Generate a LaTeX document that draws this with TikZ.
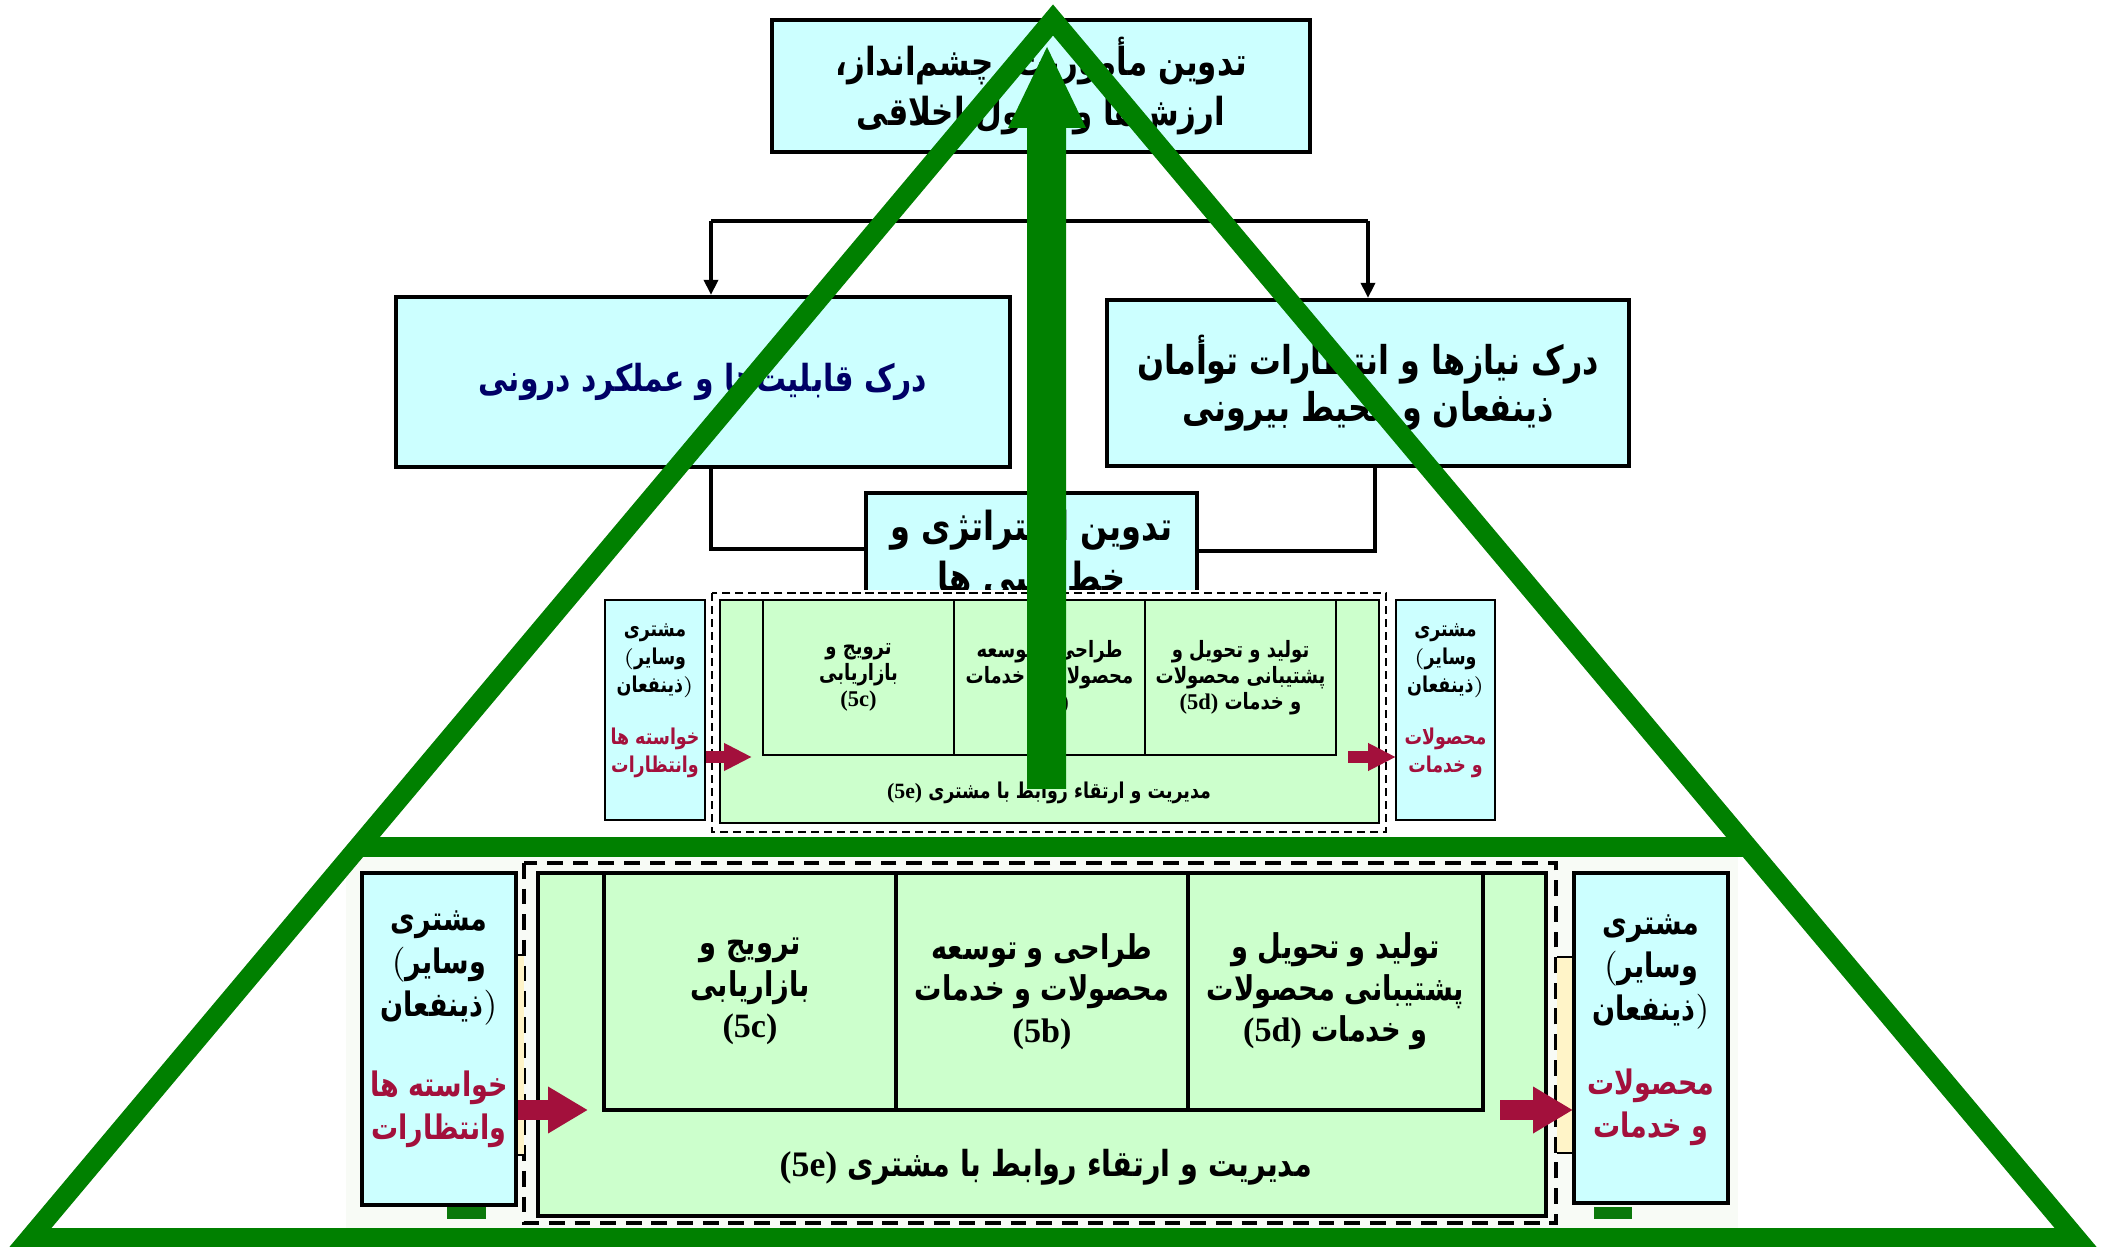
\documentclass[tikz,border=0pt]{standalone}
\usepackage{fontspec}
\setmainfont{DejaVu Sans}
\newfontfamily\fa[Script=Arabic, FakeStretch=0.8]{DejaVu Sans}
\newfontfamily\lat{Liberation Serif}
\TeXXeTstate=1
\usetikzlibrary{calc,arrows.meta}

\newcommand{\rl}[1]{\beginR#1\endR}
\newcommand{\pcode}[1]{\beginL{\lat\bfseries(#1)}\endL}
\newcommand{\lpar}{$\mathbf{(}$}
\newcommand{\rpar}{$\mathbf{)}$}
\newcommand{\fs}[2]{\fontsize{#1}{#2}\selectfont}

\definecolor{boxcyan}{HTML}{CCFFFF}
\definecolor{cellgreen}{HTML}{CCFFCC}
\definecolor{navytext}{HTML}{000066}
\definecolor{wine}{HTML}{A3103C}
\definecolor{pyramid}{HTML}{008000}
\definecolor{tabgreen}{HTML}{0B780B}
\definecolor{stripyellow}{HTML}{FFF4C8}
\definecolor{panel}{HTML}{F8FBF6}

\tikzset{
  upperbox/.style={draw=black, line width=1.2pt, fill=boxcyan, inner sep=0pt,
    align=center, font=\fa\bfseries\fs{11}{14.2}},
  conn/.style={draw=black, line width=1pt},
  tipconn/.style={conn, -{Triangle[width=4pt,length=4.3pt]}},
  % large process panel
  bigframe/.style={draw=black, line width=0.9pt, dash pattern=on 4.5pt off 2.8pt},
  bigouter/.style={draw=black, line width=1.1pt, fill=cellgreen, inner sep=0pt},
  bigcell/.style={draw=black, line width=1.1pt, fill=cellgreen, inner sep=0pt,
    align=center, font=\fa\bfseries\fs{9.7}{11.8}},
  bigcust/.style={draw=black, line width=1.2pt, fill=boxcyan, inner sep=0pt},
  bigtext/.style={inner sep=0pt, align=center, font=\fa\bfseries\fs{9.6}{12.2}},
  bigarrow/.style={draw=wine, line width=2mm, -{Triangle[width=4.4mm,length=4mm]}},
  % small process panel
  smframe/.style={draw=black, line width=0.6pt, dash pattern=on 2.3pt off 1.4pt},
  smouter/.style={draw=black, line width=0.7pt, fill=cellgreen, inner sep=0pt},
  smcell/.style={draw=black, line width=0.7pt, fill=cellgreen, inner sep=0pt,
    align=center, font=\fa\bfseries\fs{6.4}{7.4}},
  smcust/.style={draw=black, line width=0.8pt, fill=boxcyan, inner sep=0pt},
  smtext/.style={inner sep=0pt, align=center, font=\fa\bfseries\fs{6.2}{8}},
  smarrow/.style={draw=wine, line width=1.2mm, -{Triangle[width=2.6mm,length=2.8mm]}},
  pyr/.style={draw=pyramid, line width=2mm, line join=miter},
}

\begin{document}
\begin{tikzpicture}[x=0.1mm, y=-0.1mm]
\useasboundingbox (0,0) rectangle (2103,1247);

% ---------- upper planning chain ----------
\node[upperbox, minimum width=53.75mm, minimum height=13.2mm] (mission) at (1041,86)
  {\rl{تدوین مأموریت، چشم‌انداز،}\\\rl{ارزش‌ها و اصول اخلاقی}};
\node[upperbox, minimum width=61.4mm, minimum height=17mm, text=navytext,
  font=\fa\bfseries\fs{10.6}{15}] (internal) at (703,382)
  {\rl{درک قابلیت‌ها و عملکرد درونی}};
\node[upperbox, minimum width=52.2mm, minimum height=16.6mm,
  font=\fa\bfseries\fs{11.3}{13.4}] (external) at (1368,383)
  {\rl{درک نیازها و انتظارات توأمان}\\\rl{ذینفعان و محیط بیرونی}};
\node[upperbox, minimum width=33.1mm, minimum height=12mm,
  font=\fa\bfseries\fs{11.4}{14.5}] (strategy) at (1031.5,553)
  {\rl{تدوین استراتژی و}\\\rl{خط‌مشی ها}};

\coordinate (jl) at (711,221);
\coordinate (jr) at (1368,221);
\draw[conn] (mission.south) -- (mission.south |- jl);
\draw[conn] (jl) -- (jr);
\draw[tipconn] (jl) -- (jl |- internal.north);
\draw[tipconn] (jr) -- (external.north);

\coordinate (kl) at (711,549);
\coordinate (kr) at (1375,551);
\draw[conn] (internal.south -| kl) -- (kl) -- (kl -| strategy.west);
\draw[conn] (external.south -| kr) -- (kr) -- (kr -| strategy.east);

% ---------- small process panel ----------
\fill[white] (604,590) rectangle (1500,836);
\node[smouter, minimum width=65.9mm, minimum height=22.3mm] (smpanel) at (1049.5,711.5) {};
\draw[smframe] (712,593) rectangle (1386,832);
\node[smcell, minimum width=19.1mm, minimum height=15.5mm] (smc) at (858.5,677.5)
  {\rl{ترویج و}\\\rl{بازاریابی}\\\pcode{5c}};
\node[smcell, minimum width=19.1mm, minimum height=15.5mm] (smb) at (1049.5,677.5)
  {\rl{طراحی و توسعه}\\\rl{محصولات و خدمات}\\\pcode{5b}};
\node[smcell, minimum width=19.1mm, minimum height=15.5mm] (smd) at (1240.5,677.5)
  {\rl{تولید  و تحویل و}\\\rl{پشتیبانی محصولات}\\\rl{و خدمات \pcode{5d}}};
\node[smtext] (sme) at (1049,793) {\rl{مدیریت و ارتقاء روابط با مشتری \pcode{5e}}};
\node[smcust, minimum width=10mm, minimum height=22mm] (smleft) at (655,710) {};
\node[smcust, minimum width=9.9mm, minimum height=22mm] (smright) at (1445.5,710) {};
\node[smtext] (smleftA) at (655,661) {\rl{مشتری}\\\lpar وسایر\\ذینفعان\rpar};
\node[smtext, text=wine] (smleftB) at (655,753) {\rl{خواسته ها}\\\rl{وانتظارات}};
\node[smtext] (smrightA) at (1445.5,661) {\rl{مشتری}\\\lpar وسایر\\ذینفعان\rpar};
\node[smtext, text=wine] (smrightB) at (1445.5,753) {\rl{محصولات}\\\rl{و خدمات}};
\coordinate (smtipL) at (752,757);
\coordinate (smtipR) at (1396,757);
\draw[smarrow] (smleft.east |- smtipL) -- (smtipL);
\draw[smarrow] (1348,757) -- (smtipR);

% ---------- large process panel ----------
\fill[panel] (346,857) rectangle (1738,1232);
\node[bigouter, minimum width=100.8mm, minimum height=34.3mm] (panel) at (1042,1044.5) {};
\draw[bigframe] (524,863) rectangle (1556,1223);
\node[bigcell, minimum width=29.2mm, minimum height=23.7mm] (bigc) at (750,991.5)
  {\rl{ترویج و}\\\rl{بازاریابی}\\\pcode{5c}};
\node[bigcell, minimum width=29.2mm, minimum height=23.7mm] (bigb) at (1042,991.5)
  {\rl{طراحی و توسعه}\\\rl{محصولات و خدمات}\\\pcode{5b}};
\node[bigcell, minimum width=29.5mm, minimum height=23.7mm] (bigd) at (1335.5,991.5)
  {\rl{تولید  و تحویل و}\\\rl{پشتیبانی محصولات}\\\rl{و خدمات \pcode{5d}}};
\node[bigtext, font=\fa\bfseries\fs{10.2}{12}] (bige) at (1046,1167)
  {\rl{مدیریت و ارتقاء روابط با مشتری \pcode{5e}}};

% pale strips between the frame and the customer boxes
\fill[stripyellow] (516,955) rectangle (524,1155);
\draw[black, line width=0.8pt] (516,955) -- (524,955) (516,1155) -- (524,1155);
\fill[stripyellow] (1557,957) rectangle (1574,1153);
\draw[black, line width=0.8pt] (1557,957) -- (1574,957) (1557,1153) -- (1574,1153);

\node[bigcust, minimum width=15.4mm, minimum height=33.2mm] (bigleft) at (439,1039) {};
\node[bigcust, minimum width=15.4mm, minimum height=33mm] (bigright) at (1651,1038) {};
\fill[tabgreen] (447,1207) rectangle (486,1219);
\fill[tabgreen] (1594,1207) rectangle (1632,1219);
\node[bigtext] (bigleftA) at (439,968) {\rl{مشتری}\\\lpar وسایر\\ذینفعان\rpar};
\node[bigtext, text=wine] (bigleftB) at (439,1109) {\rl{خواسته ها}\\\rl{وانتظارات}};
\node[bigtext] (bigrightA) at (1651,972) {\rl{مشتری}\\\lpar وسایر\\ذینفعان\rpar};
\node[bigtext, text=wine] (bigrightB) at (1651,1107) {\rl{محصولات}\\\rl{و خدمات}};
\coordinate (bigtipL) at (588,1110);
\coordinate (bigtipR) at (1573,1110);
\draw[bigarrow] (bigleft.east |- bigtipL) -- (bigtipL);
\draw[bigarrow] (1500,1110) -- (bigtipR);

% ---------- pyramid and upward arrow ----------
\coordinate (apex) at (1053,20);
\coordinate (baseL) at (30,1238);
\coordinate (baseR) at (2076,1238);
\draw[pyr] (apex) -- (baseL) -- (baseR) -- cycle;
\draw[pyr] ($(apex)!0.679!(baseL)$) -- ($(apex)!0.679!(baseR)$);
\fill[pyramid] (1027,789) -- (1027,128) -- (1008,128) -- (1047,47)
  -- (1086,128) -- (1066,128) -- (1066,789) -- cycle;
\end{tikzpicture}
\end{document}
